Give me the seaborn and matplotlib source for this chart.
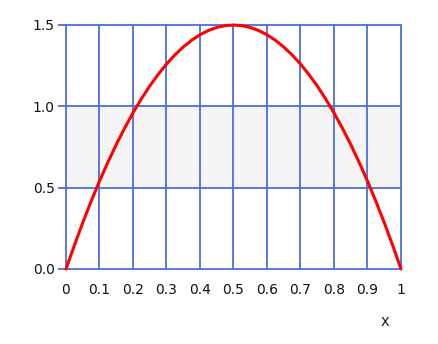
import matplotlib
matplotlib.use("Agg")
import matplotlib.pyplot as plt
import seaborn as sns
import pandas as pd

x_vals = [0.0, 0.025, 0.05, 0.075, 0.1, 0.125, 0.15, 0.175, 0.2, 0.225, 0.25,
          0.275, 0.3, 0.325, 0.35, 0.375, 0.4, 0.425, 0.45, 0.475, 0.5,
          0.525, 0.55, 0.575, 0.6, 0.625, 0.65, 0.675, 0.7, 0.725, 0.75,
          0.775, 0.8, 0.825, 0.85, 0.875, 0.9, 0.925, 0.95, 0.975, 1.0]
y_vals = [0.0, 0.146, 0.285, 0.416, 0.54, 0.656, 0.765, 0.866, 0.96, 1.046, 1.125,
          1.196, 1.26, 1.316, 1.365, 1.406, 1.44, 1.466, 1.485, 1.496, 1.5,
          1.496, 1.485, 1.466, 1.44, 1.406, 1.365, 1.316, 1.26, 1.196, 1.125,
          1.046, 0.96, 0.866, 0.765, 0.656, 0.54, 0.416, 0.285, 0.146, 0.0]
x_ticks = [0, 0.1, 0.2, 0.3, 0.4, 0.5, 0.6, 0.7, 0.8, 0.9, 1]
x_tick_labels = ["0", "0.1", "0.2", "0.3", "0.4", "0.5", "0.6", "0.7", "0.8", "0.9", "1"]
y_ticks = [0.0, 0.5, 1.0, 1.5]
y_tick_labels = ["0.0", "0.5", "1.0", "1.5"]
band = (0.5, 1.0)
x_label = "x"

sns.set_style("white")
plt.rcParams['font.family'] = ['DejaVu Sans']

df = pd.DataFrame({"x": x_vals, "y": y_vals})

fig = plt.figure(figsize=(4.39, 3.44), dpi=100)
W, H = 439, 344
left, right, top, bottom = 66, 401, 25, 269
ax = fig.add_axes([left / W, 1 - bottom / H, (right - left) / W, (bottom - top) / H])

grid_color = "#4a6fd8"
ax.axhspan(band[0], band[1], color="#f5f5f5", zorder=0)
for xv in x_ticks:
    ax.axvline(xv, color=grid_color, lw=1.3, zorder=1, clip_on=False)
for yv in y_ticks:
    ax.axhline(yv, color=grid_color, lw=1.3, zorder=1, clip_on=False)

sns.lineplot(data=df, x="x", y="y", ax=ax, color="#ff0000", lw=2.2, zorder=3, clip_on=False)

ax.set_xlim(0, 1)
ax.set_ylim(0, 1.5)
for s in ax.spines.values():
    s.set_visible(False)

ax.set_xticks(x_ticks)
ax.set_xticklabels(x_tick_labels, fontsize=10, color="#111111")
ax.set_yticks(y_ticks)
ax.set_yticklabels(y_tick_labels, fontsize=10, color="#111111")
ax.tick_params(axis="y", length=6, width=1.3, color=grid_color, pad=2, left=True)
ax.tick_params(axis="x", length=0, pad=10, bottom=True)
ax.set_xlabel("")
ax.set_ylabel("")
fig.text(385 / W, 1 - 322 / H, x_label, fontsize=10.5, ha="center", va="center", color="#222222")

fig.savefig("out.png", dpi=100)
